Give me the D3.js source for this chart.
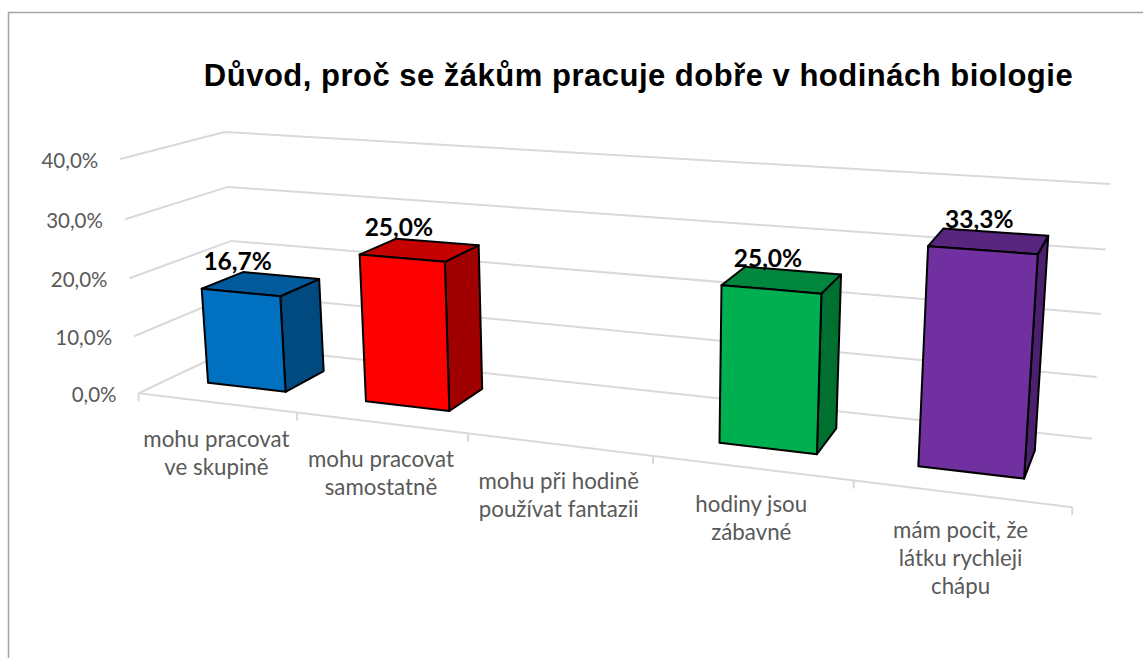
<!DOCTYPE html>
<html><head><meta charset="utf-8">
<script src="https://cdn.jsdelivr.net/npm/d3@7"></script>
<style>body{margin:0;background:#fff;overflow:hidden}svg{display:block}</style>
</head><body>
<svg id="chart" width="1143" height="658"></svg>
<script>
// ---------- data ----------
const title = "Důvod, proč se žákům pracuje dobře v hodinách biologie";
const categories = [
  "mohu pracovat\nve skupině",
  "mohu pracovat\nsamostatně",
  "mohu při hodině\npoužívat fantazii",
  "hodiny jsou\nzábavné",
  "mám pocit, že\nlátku rychleji\nchápu"
];
const values = [16.7, 25.0, 0, 25.0, 33.3];
const valueLabels = ["16,7%", "25,0%", "", "25,0%", "33,3%"];
const yTicks = [0, 10, 20, 30, 40];
const yTickLabels = ["0,0%", "10,0%", "20,0%", "30,0%", "40,0%"];
const frontColors = ["#0070C0", "#FF0000", "#A5A5A5", "#00B050", "#7030A0"];
const topColors   = ["#005A9C", "#C40000", "#8A8A8A", "#00863D", "#58257F"];
const sideColors  = ["#004A80", "#A00000", "#707070", "#007030", "#4B206E"];

// ---------- layout: perspective frame calibration (plot box corners / edges) ----------
// [worldX(category units), worldY(value/10), worldZ(depth 0 front..1 back), screenX, screenY]
const frameAnchors = [
  [0,0,0,139.3,393.3],[0,1,0,133.3,336.7],[0,2,0,129.3,278.3],[0,3,0,125,219],[0,4,0,120.7,158.3],
  [0,2,1,231.7,240.7],[0,3,1,226.7,186.7],[0,4,1,225,132.7],
  [5,0,1,1092,438],[5,1,1,1097,377],[5,2,1,1101,314],[5,3,1,1106,250],[5,4,1,1110,184],
  [5,0,0,1072,507],[1,0,0,298,412.7],[2,0,0,467,433.3],[3,0,0,653,456.5],[4,0,0,854,480.7]
];
const barZ = [0.3, 0.72];

function solveLinear(A, b) {
  const n = b.length, M = A.map((r, i) => [...r, b[i]]);
  for (let c = 0; c < n; c++) {
    let p = c;
    for (let r = c + 1; r < n; r++) if (Math.abs(M[r][c]) > Math.abs(M[p][c])) p = r;
    [M[c], M[p]] = [M[p], M[c]];
    for (let r = c + 1; r < n; r++) {
      const f = M[r][c] / M[c][c];
      for (let k = c; k <= n; k++) M[r][k] -= f * M[c][k];
    }
  }
  const x = new Array(n).fill(0);
  for (let r = n - 1; r >= 0; r--) {
    let s = M[r][n];
    for (let k = r + 1; k < n; k++) s -= M[r][k] * x[k];
    x[r] = s / M[r][r];
  }
  return x;
}
const CX = 600, CY = 330, S = 500;
const P = (() => {
  const rows = [], rhs = [];
  frameAnchors.forEach(([X, Y, Z, u0, v0]) => {
    const u = (u0 - CX) / S, v = (v0 - CY) / S;
    rows.push([X, Y, Z, 1, 0, 0, 0, 0, -u * X, -u * Y, -u * Z]); rhs.push(u);
    rows.push([0, 0, 0, 0, X, Y, Z, 1, -v * X, -v * Y, -v * Z]); rhs.push(v);
  });
  const n = 11, ATA = [], ATb = [];
  for (let i = 0; i < n; i++) {
    ATA.push(new Array(n).fill(0)); ATb.push(0);
    rows.forEach((r, k) => { ATb[i] += r[i] * rhs[k]; for (let j = 0; j < n; j++) ATA[i][j] += r[i] * r[j]; });
  }
  return solveLinear(ATA, ATb);
})();
function project(X, Y, Z) {
  const w = P[8] * X + P[9] * Y + P[10] * Z + 1;
  return [((P[0] * X + P[1] * Y + P[2] * Z + P[3]) / w) * S + CX,
          ((P[4] * X + P[5] * Y + P[6] * Z + P[7]) / w) * S + CY];
}

// ---------- scales ----------
const idx = d3.range(categories.length);
const xBand = d3.scaleBand().domain(idx).range([0, categories.length]).paddingInner(0.5).paddingOuter(0.25);
const xSlot = d3.scaleLinear().domain([0, categories.length]).range([0, categories.length]);
const yWorld = d3.scaleLinear().domain([0, 40]).range([0, 4]);

const svg = d3.select("#chart");
const line = d3.line();

// frame border
svg.append("rect").attr("x", 8.5).attr("y", 12.5).attr("width", 1200).attr("height", 700)
  .attr("fill", "none").attr("stroke", "#a6a6a6").attr("stroke-width", 1.5);

// title
svg.append("text").attr("x", 638.5).attr("y", 86).attr("text-anchor", "middle")
  .attr("font-family", "'Liberation Sans', Arial, sans-serif").attr("font-weight", "bold")
  .attr("font-size", 31).attr("letter-spacing", 0.5).attr("fill", "#000").text(title);

// gridlines (side wall + back wall)
const grid = svg.append("g").attr("fill", "none").attr("stroke", "#d9d9d9").attr("stroke-width", 2);
yTicks.forEach(t => {
  const y = yWorld(t);
  grid.append("path").attr("d", line([project(0, y, 0), project(0, y, 1), project(xSlot(categories.length), y, 1)]));
});
// category axis line + ticks
const axis = svg.append("g").attr("fill", "none").attr("stroke", "#d9d9d9").attr("stroke-width", 2);
axis.append("path").attr("d", line([project(0, 0, 0), project(xSlot(categories.length), 0, 0)]));
d3.range(categories.length + 1).forEach(i => {
  const p = project(xSlot(i), 0, 0);
  axis.append("path").attr("d", line([p, [p[0], p[1] + 8]]));
});

// y labels
const ylab = svg.append("g").attr("font-family", "Lato, sans-serif").attr("font-size", 20.5).attr("fill", "#595959");
yTicks.forEach((t, i) => {
  const p = project(0, yWorld(t), 0);
  ylab.append("text").attr("x", p[0] - 22).attr("y", p[1] + 2).attr("dy", "0.35em")
    .attr("text-anchor", "end").text(yTickLabels[i]);
});

// category labels
const clab = svg.append("g").attr("font-family", "Lato, sans-serif").attr("font-size", 22.3).attr("fill", "#595959");
categories.forEach((c, i) => {
  const p = project(xSlot(i + 0.5), 0, 0);
  const t = clab.append("text").attr("text-anchor", "middle");
  c.split("\n").forEach((ln, k) => {
    t.append("tspan").attr("x", p[0]).attr("y", p[1] + 44 + k * 28).text(ln);
  });
});

// bars
const bars = svg.append("g").attr("stroke", "#000").attr("stroke-width", 2).attr("stroke-linejoin", "round");
idx.forEach(i => {
  const v = values[i];
  if (!v) return;
  const x0 = xBand(i), x1 = xBand(i) + xBand.bandwidth(), y = yWorld(v), [z0, z1] = barZ;
  const poly = pts => line(pts) + "Z";
  bars.append("path").attr("fill", sideColors[i])
    .attr("d", poly([project(x1, 0, z0), project(x1, 0, z1), project(x1, y, z1), project(x1, y, z0)]));
  bars.append("path").attr("fill", topColors[i])
    .attr("d", poly([project(x0, y, z0), project(x0, y, z1), project(x1, y, z1), project(x1, y, z0)]));
  bars.append("path").attr("fill", frontColors[i])
    .attr("d", poly([project(x0, 0, z0), project(x1, 0, z0), project(x1, y, z0), project(x0, y, z0)]));
});

// data labels
const dlab = svg.append("g").attr("font-family", "Lato, sans-serif").attr("font-weight", "bold")
  .attr("font-size", 24.5).attr("fill", "#000").attr("text-anchor", "middle");
idx.forEach(i => {
  if (!values[i]) return;
  const p = project(xBand(i) + xBand.bandwidth() / 2, yWorld(values[i]), barZ[0]);
  dlab.append("text").attr("x", p[0] - 3).attr("y", p[1] - 22).text(valueLabels[i]);
});
</script>
</body></html>
